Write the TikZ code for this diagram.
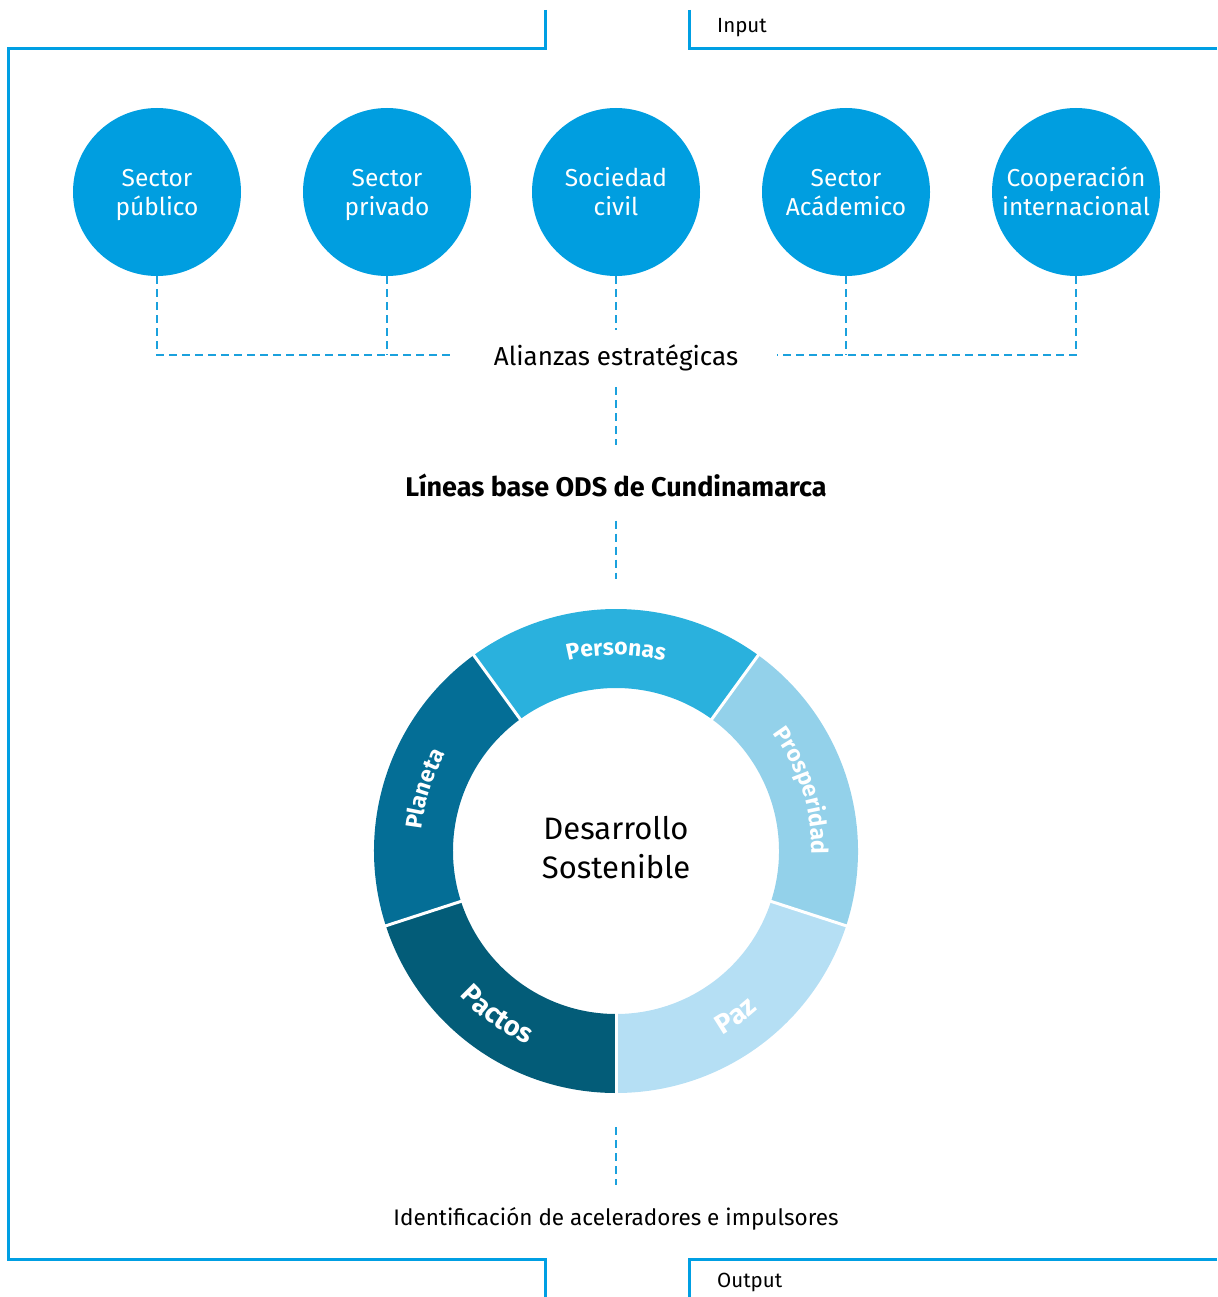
\documentclass[tikz,border=0pt]{standalone}
\usepackage{fontspec}
\setmainfont{Fira Sans}
\usetikzlibrary{decorations.text}
\definecolor{frameblue}{HTML}{009FE3}
\definecolor{circblue}{HTML}{009EE0}
\definecolor{dashblue}{HTML}{1BA1DD}
\definecolor{cPersonas}{HTML}{2AB1DD}
\definecolor{cProsp}{HTML}{93D1EA}
\definecolor{cPaz}{HTML}{B5DFF4}
\definecolor{cPlaneta}{HTML}{046E96}
\definecolor{cPactos}{HTML}{035C78}
\newcommand\twol[2]{\smash{#1}\vphantom{d}\\\smash{#2}}
\begin{document}
\begin{tikzpicture}[x=1pt,y=-1pt,
  frame/.style={draw=frameblue,line width=3pt},
  actor/.style={circle,fill=circblue,minimum size=168pt,inner sep=0pt,text=white,align=center,
    font=\fontsize{24.5}{29}\selectfont},
  dline/.style={draw=dashblue,line width=2pt,dash pattern=on 8pt off 5pt},
  lbl/.style={font=\fontsize{24}{28}\selectfont,inner sep=0pt},
  seglabel/.style={decorate,decoration={text along path,text align=center,
    text={|\fontsize{23}{23}\selectfont\bfseries|#1},text color=white}},
  seglabelb/.style={decorate,decoration={text along path,text align=center,
    text={|\fontsize{27.5}{27.5}\selectfont\bfseries|#1},text color=white}}
]
\useasboundingbox (0,0) rectangle (1217,1297);
% frame
\draw[frame] (545,10) -- (545,49) -- (8,49) -- (8,1259) -- (545,1259) -- (545,1297);
\draw[frame] (689,10) -- (689,49) -- (1217,49);
\draw[frame] (1217,1259) -- (689,1259) -- (689,1297);
\node[lbl,font=\fontsize{20.5}{24}\selectfont,anchor=west] (input) at (717,28) {Input};
\node[lbl,font=\fontsize{20.5}{24}\selectfont,anchor=west] (output) at (717,1282) {Output};
% actors
\node[actor] (c1) at (157,192) {\twol{Sector}{público}};
\node[actor] (c2) at (387,192) {\twol{Sector}{privado}};
\node[actor] (c3) at (616,192) {\twol{Sociedad}{civil}};
\node[actor] (c4) at (846,192) {\twol{Sector}{Acádemico}};
\node[actor] (c5) at (1076,192) {\twol{Cooperación}{internacional}};
\node[lbl,font=\fontsize{26}{30}\selectfont,inner xsep=39pt] (al) at (616,358) {Alianzas estratégicas};
\coordinate (c3end) at (616,330);
\draw[dline] (c1.south) |- ([yshift=3pt]al.west);
\draw[dline] (c2.south) -- ([yshift=3pt]c2.south |- al.west);
\draw[dline] (c3.south) -- (c3end);
\draw[dline] (c5.south) |- ([yshift=3pt]al.east);
\draw[dline] (c4.south) -- ([yshift=3pt]c4.south |- al.east);
\node[lbl,font=\fontsize{27}{32}\selectfont\bfseries] (lb) at (616,485) {Líneas base ODS de Cundinamarca};
\draw[dline,shorten <=16pt,shorten >=28pt] (al.south) -- (lb.north);
% ring
\node[circle,minimum size=484pt,inner sep=0pt] (ring) at (616,851) {};
\draw[dline,shorten <=24pt,shorten >=30pt] (lb.south) -- (ring.north);
\begin{scope}[shift={(616,851)},x=1pt,y=1pt]
  \fill[cPaz] (270:242) arc[start angle=270,end angle=342,radius=242] -- (342:163) arc[start angle=342,end angle=270,radius=163] -- cycle;
  \fill[cProsp] (-18:242) arc[start angle=-18,end angle=54,radius=242] -- (54:163) arc[start angle=54,end angle=-18,radius=163] -- cycle;
  \fill[cPersonas] (54:242) arc[start angle=54,end angle=126,radius=242] -- (126:163) arc[start angle=126,end angle=54,radius=163] -- cycle;
  \fill[cPlaneta] (126:242) arc[start angle=126,end angle=198,radius=242] -- (198:163) arc[start angle=198,end angle=126,radius=163] -- cycle;
  \fill[cPactos] (198:242) arc[start angle=198,end angle=270,radius=242] -- (270:163) arc[start angle=270,end angle=198,radius=163] -- cycle;
  \foreach \a in {270,342,54,126,198}
    \draw[white,line width=3pt] (\a:158) -- (\a:247);
  \path[seglabel=Personas] (126:196) arc[start angle=126,end angle=54,radius=196];
  \path[seglabel=Prosperidad] (54:196) arc[start angle=54,end angle=-18,radius=196];
  \path[seglabel=Planeta] (198:196) arc[start angle=198,end angle=126,radius=196];
  \path[seglabelb=Paz] (270:213) arc[start angle=270,end angle=342,radius=213];
  \path[seglabelb=Pactos] (198:213) arc[start angle=198,end angle=270,radius=213];
\end{scope}
\node[align=center,font=\fontsize{31}{39}\selectfont] (ds) at (616,848) {Desarrollo\\Sostenible};
\node[lbl,font=\fontsize{22.5}{26}\selectfont] (id) at (616,1219) {Identificación de aceleradores e impulsores};
\draw[dline,shorten <=34pt,shorten >=22pt] (ring.south) -- (id.north);
\end{tikzpicture}
\end{document}
